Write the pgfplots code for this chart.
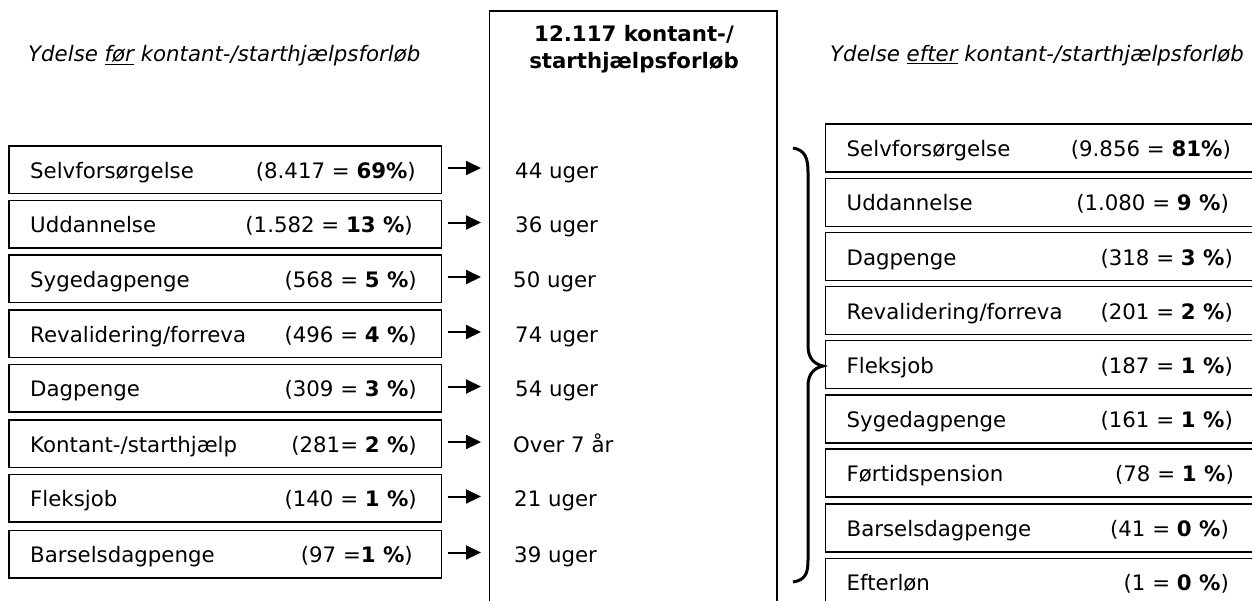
\documentclass[border=0pt]{standalone}
\usepackage{pgfplots}
\pgfplotsset{compat=1.18}
\usetikzlibrary{arrows.meta}
\usepackage{fontspec}
\setmainfont{DejaVu Sans}
\newcommand\f{\fontsize{21.3}{26.6}\selectfont}
\begin{document}
\begin{tikzpicture}
\useasboundingbox (0,0) rectangle (1252pt,600pt);
\clip (0,0) rectangle (1252pt,600pt);
\begin{axis}[at={(0pt,0pt)}, anchor=south west, width=1252pt, height=600pt,
  scale only axis, xmin=0, xmax=1252, ymin=0, ymax=600, y dir=reverse,
  axis lines=none, xtick=\empty, ytick=\empty, clip=false]
\tikzset{lab/.style={anchor=base west, inner sep=0pt, font=\f},
         val/.style={anchor=base east, inner sep=0pt, font=\f},
         arr/.style={line width=2pt, -{Triangle[length=15pt, width=14pt]}},
         bx/.style={line width=1.5pt}}
% titles
\node[anchor=base west, inner sep=0pt, font=\f\itshape] at (axis cs:28,61.5) {Ydelse \underline{før} kontant-/starthjælpsforløb};
\node[anchor=base west, inner sep=0pt, font=\f\itshape] at (axis cs:830,61.5) {Ydelse \underline{efter} kontant-/starthjælpsforløb};
% center box
\draw[line width=1.2pt] (axis cs:489.5,700) -- (axis cs:489.5,11) -- (axis cs:777,11) -- (axis cs:777,700);
\node[anchor=base, inner sep=0pt, font=\f\bfseries] at (axis cs:634,41.5) {12.117 kontant-/};
\node[anchor=base, inner sep=0pt, font=\f\bfseries] at (axis cs:634,68) {starthjælpsforløb};
% left boxes
\draw[bx] (axis cs:9,146) rectangle (axis cs:441.5,193.5);
\draw[bx] (axis cs:9,200.5) rectangle (axis cs:441.5,248);
\draw[bx] (axis cs:9,255) rectangle (axis cs:441.5,302.5);
\draw[bx] (axis cs:9,310) rectangle (axis cs:441.5,357.5);
\draw[bx] (axis cs:9,364.5) rectangle (axis cs:441.5,412);
\draw[bx] (axis cs:9,420) rectangle (axis cs:441.5,467.5);
\draw[bx] (axis cs:9,474.5) rectangle (axis cs:441.5,522);
\draw[bx] (axis cs:9,530.5) rectangle (axis cs:441.5,578);
\node[lab] at (axis cs:30,178) {Selvforsørgelse};
\node[val] at (axis cs:416,178) {(8.417 = \textbf{69\%})};
\node[lab] at (axis cs:30,232.5) {Uddannelse};
\node[val] at (axis cs:413,232.5) {(1.582 = \textbf{13 \%})};
\node[lab] at (axis cs:30,287) {Sygedagpenge};
\node[val] at (axis cs:417,287) {(568 = \textbf{5 \%})};
\node[lab] at (axis cs:30,342) {Revalidering/forreva};
\node[val] at (axis cs:417,342) {(496 = \textbf{4 \%})};
\node[lab] at (axis cs:30,396.5) {Dagpenge};
\node[val] at (axis cs:417,396.5) {(309 = \textbf{3 \%})};
\node[lab] at (axis cs:30,452) {Kontant-/starthjælp};
\node[val] at (axis cs:417,452) {(281= \textbf{2 \%})};
\node[lab] at (axis cs:30,506.5) {Fleksjob};
\node[val] at (axis cs:417,506.5) {(140 = \textbf{1 \%})};
\node[lab] at (axis cs:30,562.5) {Barselsdagpenge};
\node[val] at (axis cs:413,562.5) {(97 =\textbf{1 \%})};
% arrows
\draw[arr] (axis cs:448,168) -- (axis cs:481,168);
\draw[arr] (axis cs:448,222.5) -- (axis cs:481,222.5);
\draw[arr] (axis cs:448,277) -- (axis cs:481,277);
\draw[arr] (axis cs:448,332) -- (axis cs:481,332);
\draw[arr] (axis cs:448,386.5) -- (axis cs:481,386.5);
\draw[arr] (axis cs:448,442) -- (axis cs:481,442);
\draw[arr] (axis cs:448,496.5) -- (axis cs:481,496.5);
\draw[arr] (axis cs:448,552.5) -- (axis cs:481,552.5);
% weeks
\node[lab] at (axis cs:515,178) {44 uger};
\node[lab] at (axis cs:515,232.5) {36 uger};
\node[lab] at (axis cs:513,287) {50 uger};
\node[lab] at (axis cs:515,342) {74 uger};
\node[lab] at (axis cs:515,396.5) {54 uger};
\node[lab] at (axis cs:513,452) {Over 7 år};
\node[lab] at (axis cs:514,506.5) {21 uger};
\node[lab] at (axis cs:514,562.5) {39 uger};
% brace
\draw[line width=3pt] (axis cs:793,148) .. controls (axis cs:805,150) and (axis cs:808,158) .. (axis cs:808,172)
  -- (axis cs:808,346) .. controls (axis cs:808,358) and (axis cs:814,364) .. (axis cs:823,366)
  .. controls (axis cs:814,368) and (axis cs:808,374) .. (axis cs:808,386)
  -- (axis cs:808,560) .. controls (axis cs:808,574) and (axis cs:805,580) .. (axis cs:793,582);
% right boxes
\draw[bx] (axis cs:825.5,124) rectangle (axis cs:1270,172);
\draw[bx] (axis cs:825.5,178.3) rectangle (axis cs:1270,226.3);
\draw[bx] (axis cs:825.5,232.7) rectangle (axis cs:1270,280.7);
\draw[bx] (axis cs:825.5,286.7) rectangle (axis cs:1270,334.7);
\draw[bx] (axis cs:825.5,340.7) rectangle (axis cs:1270,388.7);
\draw[bx] (axis cs:825.5,395) rectangle (axis cs:1270,443);
\draw[bx] (axis cs:825.5,449) rectangle (axis cs:1270,497);
\draw[bx] (axis cs:825.5,504) rectangle (axis cs:1270,552);
\draw[bx] (axis cs:825.5,558.3) rectangle (axis cs:1270,640);
\node[lab] at (axis cs:846.5,156.5) {Selvforsørgelse};
\node[val] at (axis cs:1231,156.5) {(9.856 = \textbf{81\%})};
\node[lab] at (axis cs:846.5,210.8) {Uddannelse};
\node[val] at (axis cs:1229,210.8) {(1.080 = \textbf{9 \%})};
\node[lab] at (axis cs:846.5,265.2) {Dagpenge};
\node[val] at (axis cs:1233,265.2) {(318 = \textbf{3 \%})};
\node[lab] at (axis cs:846.5,319.2) {Revalidering/forreva};
\node[val] at (axis cs:1233,319.2) {(201 = \textbf{2 \%})};
\node[lab] at (axis cs:846.5,373.2) {Fleksjob};
\node[val] at (axis cs:1233,373.2) {(187 = \textbf{1 \%})};
\node[lab] at (axis cs:846.5,427.5) {Sygedagpenge};
\node[val] at (axis cs:1233,427.5) {(161 = \textbf{1 \%})};
\node[lab] at (axis cs:846.5,481.5) {Førtidspension};
\node[val] at (axis cs:1234,481.5) {(78 = \textbf{1 \%})};
\node[lab] at (axis cs:846.5,536.5) {Barselsdagpenge};
\node[val] at (axis cs:1229,536.5) {(41 = \textbf{0 \%})};
\node[lab] at (axis cs:846.5,590.8) {Efterløn};
\node[val] at (axis cs:1229,590.8) {(1 = \textbf{0 \%})};
\end{axis}
\end{tikzpicture}
\end{document}
